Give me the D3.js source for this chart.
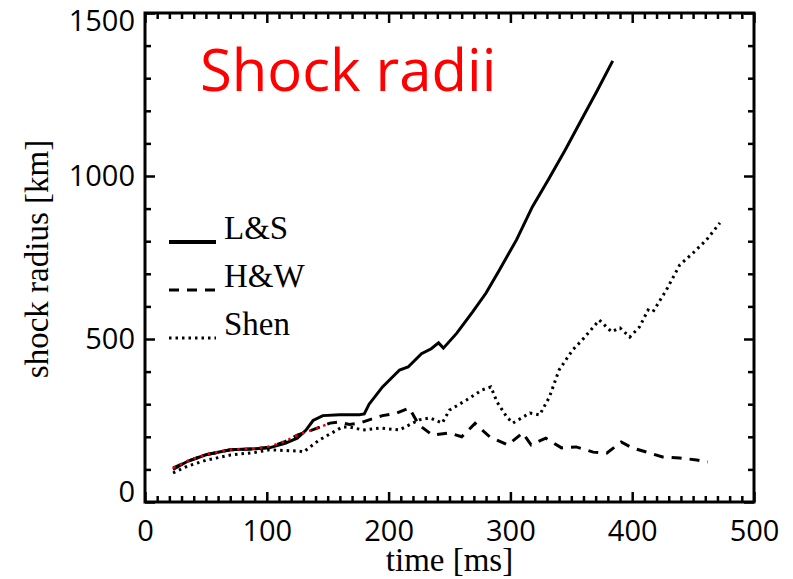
<!DOCTYPE html>
<html>
<head>
<meta charset="utf-8">
<script src="https://cdn.jsdelivr.net/npm/d3@7"></script>
<style>
  body { margin: 0; background: #fff; }
  svg { display: block; }
  .tick text { font-family: "Open Sans", sans-serif; font-size: 29px; fill: #000; }
  .tick line { stroke: #000; stroke-width: 2.5; }
</style>
</head>
<body>
<div id="chart"></div>
<script>
// time [ms] / shock radius [km]
const timeLS = [23, 35, 50, 70, 90, 102, 115, 125, 132, 138, 146, 160, 176, 180, 184, 195, 209, 216, 227, 235, 241, 245, 256, 269, 280, 291, 305, 318, 331, 345, 358, 371, 384];
const radiusLS = [100, 125, 145, 160, 163, 166, 180, 196, 220, 250, 265, 268, 268, 270, 300, 353, 405, 414, 455, 470, 488, 472, 518, 583, 641, 712, 804, 905, 988, 1080, 1170, 1260, 1353];

const timeHW = [23, 35, 50, 70, 90, 102, 115, 125, 138, 152, 158, 168, 176, 184, 195, 206, 217, 225, 236, 250, 260, 271, 283, 298, 310, 317, 329, 342, 354, 368, 379, 391, 400, 412, 425, 439, 453, 462];
const radiusHW = [104, 125, 145, 160, 163, 168, 185, 205, 222, 242, 245, 238, 242, 252, 265, 272, 288, 236, 205, 212, 200, 241, 200, 175, 212, 175, 196, 166, 169, 153, 150, 184, 166, 153, 138, 135, 129, 123];

const timeShen = [23, 35, 50, 70, 90, 102, 115, 127, 130, 143, 162, 168, 179, 193, 209, 225, 234, 244, 250, 264, 277, 284, 289, 297, 302, 316, 324, 332, 340, 351, 359, 373, 383, 390, 398, 406, 413, 417, 428, 439, 450, 461, 472];
const radiusShen = [89, 110, 128, 144, 152, 160, 158, 156, 153, 190, 230, 230, 221, 227, 221, 252, 258, 242, 282, 313, 344, 353, 307, 261, 242, 273, 267, 322, 405, 466, 497, 558, 522, 534, 506, 537, 589, 583, 650, 727, 764, 804, 856];

const timeRed = [23, 35, 50, 70, 90, 102, 115, 125, 138, 152];
const radiusRed = [104, 126, 146, 161, 164, 170, 186, 205, 222, 242];

const legendLabels = ["L&S", "H&W", "Shen"];
const xMajor = [0, 100, 200, 300, 400, 500];
const yMajor = [0, 500, 1000, 1500];

const width = 793, height = 579;
const margin = { top: 13, right: 39, bottom: 77, left: 145 };

const svg = d3.select("#chart").append("svg")
  .attr("width", width)
  .attr("height", height);

const x = d3.scaleLinear().domain([0, 500]).range([margin.left, width - margin.right]);
const y = d3.scaleLinear().domain([0, 1500]).range([height - margin.bottom, margin.top]);

const x0 = x.range()[0], x1 = x.range()[1];
const y0 = y.range()[0], y1 = y.range()[1];

// minor ticks
const xMinor = d3.range(0, 501, 10).filter(d => d % 100 !== 0);
const yMinor = d3.range(0, 1501, 100).filter(d => d % 500 !== 0);

function clean(g) { g.select(".domain").remove(); }

svg.append("g").attr("transform", `translate(0,${y0})`)
  .call(d3.axisBottom(x).tickValues(xMinor).tickFormat("").tickSizeInner(-6).tickSizeOuter(0)).call(clean);
svg.append("g").attr("transform", `translate(0,${y1})`)
  .call(d3.axisTop(x).tickValues(xMinor).tickFormat("").tickSizeInner(-6).tickSizeOuter(0)).call(clean);
svg.append("g").attr("transform", `translate(${x0},0)`)
  .call(d3.axisLeft(y).tickValues(yMinor).tickFormat("").tickSizeInner(-6).tickSizeOuter(0)).call(clean);
svg.append("g").attr("transform", `translate(${x1},0)`)
  .call(d3.axisRight(y).tickValues(yMinor).tickFormat("").tickSizeInner(-6).tickSizeOuter(0)).call(clean);

// major ticks
svg.append("g").attr("transform", `translate(0,${y0})`)
  .call(d3.axisBottom(x).tickValues(xMajor).tickFormat(d3.format("d")).tickSizeInner(-10).tickSizeOuter(0).tickPadding(18))
  .call(clean);
svg.append("g").attr("transform", `translate(0,${y1})`)
  .call(d3.axisTop(x).tickValues(xMajor).tickFormat("").tickSizeInner(-10).tickSizeOuter(0)).call(clean);
const yAx = svg.append("g").attr("transform", `translate(${x0},0)`)
  .call(d3.axisLeft(y).tickValues(yMajor).tickFormat(d3.format("d")).tickSizeInner(-10).tickSizeOuter(0).tickPadding(10))
  .call(clean);
svg.append("g").attr("transform", `translate(${x1},0)`)
  .call(d3.axisRight(y).tickValues(yMajor).tickFormat("").tickSizeInner(-10).tickSizeOuter(0)).call(clean);

// end labels are nudged inside like the original
yAx.selectAll(".tick text").attr("dy", d => d === 0 ? "-0.02em" : d === 1500 ? "0.6em" : "0.32em");

// frame
svg.append("rect")
  .attr("x", x0).attr("y", y1)
  .attr("width", x1 - x0).attr("height", y0 - y1)
  .attr("fill", "none").attr("stroke", "#000").attr("stroke-width", 3);

const line = d3.line()
  .x(d => x(d[0]))
  .y(d => y(d[1]));

const zip = (a, b) => a.map((t, i) => [t, b[i]]);

svg.append("path").datum(zip(timeShen, radiusShen))
  .attr("d", line).attr("fill", "none")
  .attr("stroke", "#000").attr("stroke-width", 3).attr("stroke-dasharray", "2.5,4");

svg.append("path").datum(zip(timeHW, radiusHW))
  .attr("d", line).attr("fill", "none")
  .attr("stroke", "#000").attr("stroke-width", 3).attr("stroke-dasharray", "10,8");

svg.append("path").datum(zip(timeLS, radiusLS))
  .attr("d", line).attr("fill", "none")
  .attr("stroke", "#000").attr("stroke-width", 3);

svg.append("path").datum(zip(timeRed, radiusRed))
  .attr("d", line).attr("fill", "none")
  .attr("stroke", "#e00").attr("stroke-width", 2.5).attr("stroke-dasharray", "2.5,5");

// legend
const legendDash = [null, "10,8", "2.5,4"];
const leg = svg.append("g");
legendLabels.forEach((lab, i) => {
  const ly = 242 + i * 48;
  leg.append("line")
    .attr("x1", 169).attr("x2", 216).attr("y1", ly).attr("y2", ly)
    .attr("stroke", "#000").attr("stroke-width", i === 0 ? 4 : 3)
    .attr("stroke-dasharray", legendDash[i]);
  leg.append("text")
    .attr("x", 224).attr("y", ly - 3)
    .attr("font-family", "'Liberation Serif', 'Times New Roman', serif")
    .attr("font-size", 33)
    .text(lab);
});

// titles
svg.append("text")
  .attr("x", (x0 + x1) / 2).attr("y", 571)
  .attr("text-anchor", "middle")
  .attr("font-family", "'Liberation Serif', 'Times New Roman', serif")
  .attr("font-size", 33)
  .text("time [ms]");

svg.append("text")
  .attr("transform", `translate(48,259) rotate(-90)`)
  .attr("text-anchor", "middle")
  .attr("font-family", "'Liberation Serif', 'Times New Roman', serif")
  .attr("font-size", 33)
  .text("shock radius [km]");

svg.append("text")
  .attr("x", 200).attr("y", 91)
  .attr("font-family", "'Open Sans', sans-serif")
  .attr("font-size", 58)
  .attr("fill", "#ff0000")
  .text("Shock radii");
</script>
</body>
</html>
